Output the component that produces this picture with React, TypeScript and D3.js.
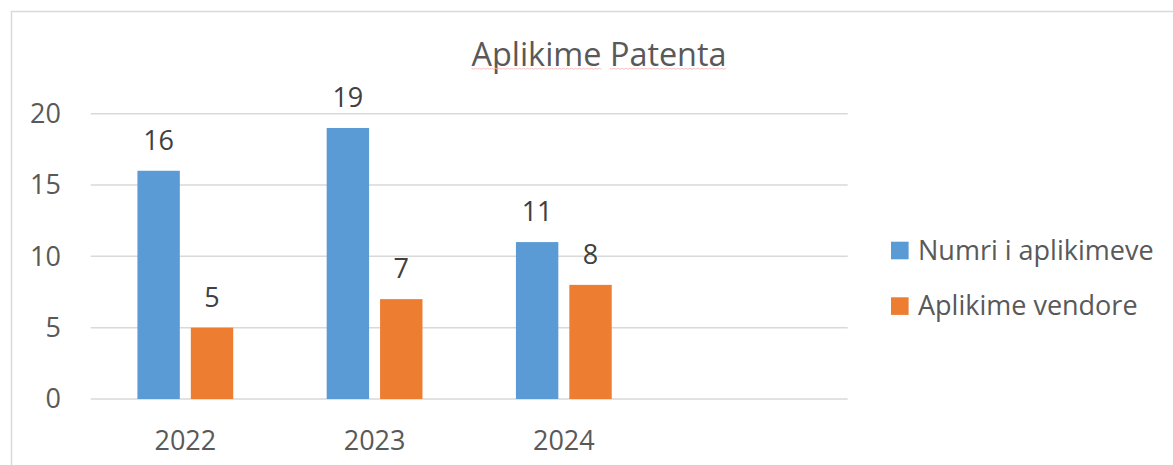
import React, { useEffect, useRef } from "react";
import * as d3 from "d3";

const categories = ["2022", "2023", "2024", ""];
const seriesNames = ["Numri i aplikimeve", "Aplikime vendore"];
const numriAplikimeve = [16, 19, 11, null];
const aplikimeVendore = [5, 7, 8, null];
const yTicks = [0, 5, 10, 15, 20];
const colors = ["#5B9BD5", "#ED7D31"];
const title = "Aplikime Patenta";

const W = 1173;
const H = 465;
const FONT = "'Open Sans', 'Noto Sans', sans-serif";
const TITLE_Y = 66;

export default function App() {
  const titleRef = useRef<SVGTextElement>(null);
  const squiggleRef = useRef<SVGGElement>(null);

  const x = d3.scaleBand<string>().domain(categories).range([90.7, 847.7]).padding(0);
  const inner = d3
    .scaleBand<string>()
    .domain(seriesNames)
    .range([0, x.bandwidth()])
    .paddingInner(0.206)
    .paddingOuter(0.875);
  const y = d3.scaleLinear().domain([0, 20]).range([399, 113.7]);

  const series = [numriAplikimeve, aplikimeVendore];

  useEffect(() => {
    const t = titleRef.current;
    const g = squiggleRef.current;
    if (!t || !g) return;
    const sel = d3.select(g);
    sel.selectAll("*").remove();
    const words = title.split(" ");
    let idx = 0;
    words.forEach((w) => {
      const start = t.getStartPositionOfChar(idx).x;
      const end = t.getEndPositionOfChar(idx + w.length - 1).x;
      idx += w.length + 1;
      const yy = TITLE_Y + 2.3;
      const pts: [number, number][] = [];
      for (let xx = start; xx <= end; xx += 2) {
        pts.push([xx, yy + (Math.round((xx - start) / 2) % 2 ? 0.9 : 0)]);
      }
      sel
        .append("path")
        .attr("d", d3.line()(pts) || "")
        .attr("fill", "none")
        .attr("stroke", "#f5c2c2")
        .attr("stroke-width", 1);
    });
  }, []);

  return (
    <svg
      width={W}
      height={H}
      style={{ position: "absolute", left: 0, top: 0, background: "#fff" }}
      fontFamily={FONT}
    >
      <rect x={0} y={0} width={W} height={H} fill="#fff" />
      <path d={`M11.5,${H + 5}V11.5H${W + 5}`} fill="none" stroke="#d9d9d9" strokeWidth={1.5} />

      {yTicks.map((t) => (
        <line
          key={t}
          x1={x.range()[0]}
          x2={x.range()[1]}
          y1={y(t)}
          y2={y(t)}
          stroke="#d9d9d9"
          strokeWidth={1.5}
        />
      ))}

      {yTicks.map((t) => (
        <text
          key={"yl" + t}
          x={61}
          y={y(t)}
          dy="0.35em"
          textAnchor="end"
          fontSize={27}
          fill="#595959"
        >
          {t}
        </text>
      ))}

      {categories.map((c, ci) =>
        series.map((s, si) => {
          const v = s[ci];
          if (v == null) return null;
          const bx = (x(c) as number) + (inner(seriesNames[si]) as number);
          return (
            <g key={c + si}>
              <rect
                x={bx}
                y={y(v)}
                width={inner.bandwidth()}
                height={y(0) - y(v)}
                fill={colors[si]}
              />
              <text
                x={bx + inner.bandwidth() / 2}
                y={y(v) - 21}
                textAnchor="middle"
                fontSize={27}
                fill="#404040"
              >
                {v}
              </text>
            </g>
          );
        })
      )}

      {categories.map((c) => (
        <text
          key={"xl" + c}
          x={(x(c) as number) + x.bandwidth() / 2}
          y={450}
          textAnchor="middle"
          fontSize={27}
          fill="#595959"
        >
          {c}
        </text>
      ))}

      <text
        ref={titleRef}
        x={599}
        y={TITLE_Y}
        textAnchor="middle"
        fontSize={32.4}
        fill="#595959"
      >
        {title}
      </text>
      <g ref={squiggleRef} />

      {seriesNames.map((n, i) => (
        <g key={n} transform={`translate(891,${241.7 + i * 55.6})`}>
          <rect x={0} y={0} width={17.6} height={17.6} fill={colors[i]} />
          <text x={27} y={18} fontSize={27} fill="#595959">
            {n}
          </text>
        </g>
      ))}
    </svg>
  );
}
